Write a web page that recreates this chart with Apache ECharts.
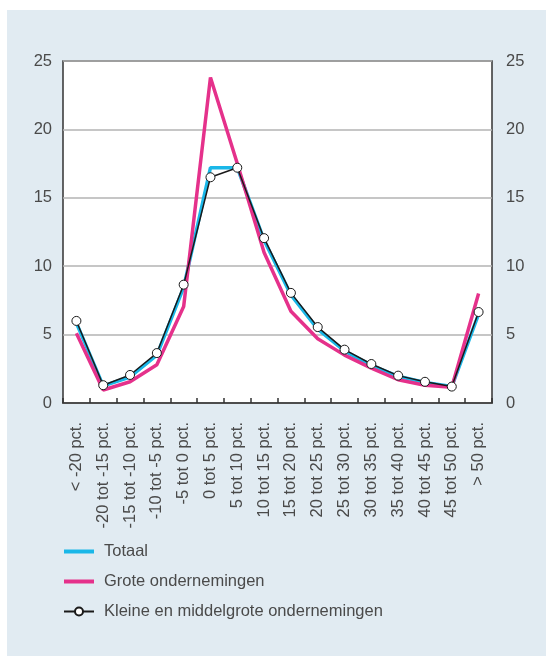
<!DOCTYPE html>
<html>
<head>
<meta charset="utf-8">
<script src="https://cdn.jsdelivr.net/npm/echarts@6/dist/echarts.min.js"></script>
<style>
html,body{margin:0;padding:0;background:#ffffff;}
#bg{position:absolute;left:7px;top:10px;width:539px;height:646px;background:#e1ebf2;}
#chart{position:absolute;left:0;top:0;width:546px;height:656px;}
</style>
</head>
<body>
<div id="bg"></div>
<div id="chart"></div>
<script>
const categories = ['< -20 pct.', '-20 tot -15 pct.', '-15 tot -10 pct.', '-10 tot -5 pct.', '-5 tot 0 pct.', '0 tot 5 pct.', '5 tot 10 pct.', '10 tot 15 pct.', '15 tot 20 pct.', '20 tot 25 pct.', '25 tot 30 pct.', '30 tot 35 pct.', '35 tot 40 pct.', '40 tot 45 pct.', '45 tot 50 pct.', '> 50 pct.'];
const totaal = [5.85, 1.25, 1.9, 3.5, 8.45, 17.2, 17.2, 11.9, 7.9, 5.4, 3.8, 2.75, 1.95, 1.5, 1.2, 6.5];
const grote = [5.1, 0.95, 1.55, 2.8, 7.05, 23.8, 17.5, 11.0, 6.7, 4.7, 3.5, 2.55, 1.7, 1.3, 1.15, 8.0];
const kleine = [6.0, 1.3, 2.05, 3.65, 8.65, 16.5, 17.2, 12.05, 8.05, 5.55, 3.9, 2.85, 2.0, 1.55, 1.2, 6.65];
const yTicks = [0, 5, 10, 15, 20, 25];

const names = ['Totaal', 'Grote ondernemingen', 'Kleine en middelgrote ondernemingen'];
const colTotaal = '#1ab7e8';
const colGrote = '#e5318b';
const textColor = '#4a4a4a';
const font = 'Liberation Sans, Arial, sans-serif';
const barIcon = 'path://M0 0H30V4H0Z';

const chart = echarts.init(document.getElementById('chart'), null, {renderer: 'canvas'});
chart.setOption({
  backgroundColor: 'transparent',
  animation: false,
  grid: {
    left: 63, right: 54, top: 61, bottom: 253,
    show: true, backgroundColor: '#ffffff', borderColor: '#333333', borderWidth: 1.5,
    containLabel: false
  },
  legend: {
    orient: 'vertical', left: 63, top: 543, padding: 0,
    itemWidth: 30, itemHeight: 10, itemGap: 13,
    data: [
      {name: names[0], icon: barIcon, itemStyle: {color: colTotaal}},
      {name: names[1], icon: barIcon, itemStyle: {color: colGrote}},
      {name: names[2]}
    ],
    textStyle: {fontFamily: font, fontSize: 16.5, color: textColor, padding: [0, 0, 0, 5]}
  },
  xAxis: {
    type: 'category', data: categories, boundaryGap: true,
    axisLine: {show: true, lineStyle: {color: '#333333', width: 1.5}},
    axisTick: {show: true, inside: true, length: 5, lineStyle: {color: '#333333', width: 1.5}},
    axisLabel: {rotate: 90, interval: 0, margin: 19, fontFamily: font, fontSize: 16.5, color: textColor},
    splitLine: {show: false}
  },
  yAxis: [
    {
      type: 'value', min: yTicks[0], max: yTicks[yTicks.length - 1], interval: 5, position: 'left',
      axisLine: {show: false}, axisTick: {show: false},
      axisLabel: {margin: 11, fontFamily: font, fontSize: 16.5, color: textColor},
      splitLine: {show: true, lineStyle: {color: '#b3b3b3', width: 1.5}}
    },
    {
      type: 'value', min: yTicks[0], max: yTicks[yTicks.length - 1], interval: 5, position: 'right',
      axisLine: {show: false}, axisTick: {show: false},
      axisLabel: {margin: 14, fontFamily: font, fontSize: 16.5, color: textColor},
      splitLine: {show: false}
    }
  ],
  series: [
    {
      name: names[0], type: 'line', data: totaal, symbol: 'none',
      lineStyle: {color: colTotaal, width: 3.5}, itemStyle: {color: colTotaal}
    },
    {
      name: names[1], type: 'line', data: grote, symbol: 'none',
      lineStyle: {color: colGrote, width: 3.5}, itemStyle: {color: colGrote}
    },
    {
      name: names[2], type: 'line', data: kleine, symbol: 'circle', symbolSize: 9,
      lineStyle: {color: '#1a1a1a', width: 1.5},
      itemStyle: {color: '#ffffff', borderColor: '#1a1a1a', borderWidth: 1}
    }
  ]
});
</script>
</body>
</html>
